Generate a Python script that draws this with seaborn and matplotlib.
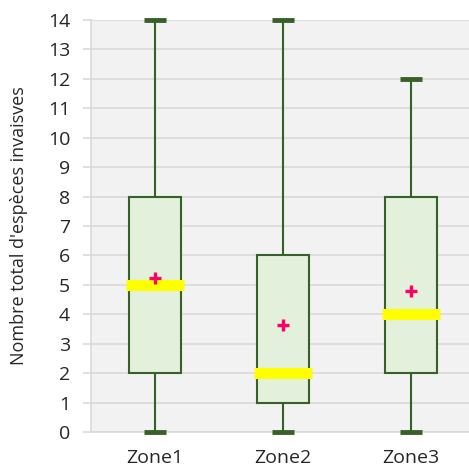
import numpy as np
import pandas as pd
from matplotlib import pyplot as plt
import seaborn as sns

# five-number summaries (min, q1, median, q3, max)
zones = ["Zone1", "Zone2", "Zone3"]
mins = [0, 0, 0]
q1s = [2, 1, 2]
medians = [5, 2, 4]
q3s = [8, 6, 8]
maxs = [14, 14, 12]
means = [5.25, 3.65, 4.8]

# with 5 values, quartiles fall exactly on the summary points
rows = []
for z, a, b, c, d, e in zip(zones, mins, q1s, medians, q3s, maxs):
    for v in (a, b, c, d, e):
        rows.append({"zone": z, "value": v})
dat = pd.DataFrame(rows)
mdat = pd.DataFrame({"zone": zones, "mean": means})

sns.set_style("white")
plt.rcParams["font.family"] = ["Open Sans", "DejaVu Sans"]

fig = plt.figure(figsize=(4.69, 4.68), dpi=100)
ax = fig.add_axes([91 / 469, 1 - 432 / 468, 384 / 469, 412 / 468])
ax.set_facecolor("#f2f2f2")

green = "#38612a"
sns.boxplot(data=dat, x="zone", y="value", ax=ax, whis=(0, 100), width=0.41,
            color="#e3f1dc", linecolor=green, linewidth=1.5, fill=True,
            saturation=1, showcaps=True,
            medianprops=dict(color="#ffff00", linewidth=0),
            capprops=dict(linewidth=3.5, solid_capstyle="butt"),
            capwidths=0.17)

# caps at 0 and 14 sit on the axes edges, keep them unclipped and above spines
for ln in ax.lines:
    ln.set_clip_on(False)
    ln.set_zorder(4)

# thick yellow median bands, slightly wider than the boxes
for i, m in enumerate(medians):
    ax.plot([i - 0.225, i + 0.225], [m, m], color="#ffff00", lw=8,
            solid_capstyle="butt", zorder=5)

sns.scatterplot(data=mdat, x="zone", y="mean", ax=ax, marker="+", s=75,
                color="#ff0066", linewidth=2.4, zorder=6, legend=False)

ax.set_xlim(-0.5, 2.5)
ax.set_ylim(0, 14)
ax.set_yticks(range(0, 15))
ax.yaxis.grid(True, color="#d9d9d9", lw=1.2)
ax.set_axisbelow(True)
for s in ["top", "right"]:
    ax.spines[s].set_visible(False)
for s in ["left", "bottom"]:
    ax.spines[s].set_color("#d9d9d9")
    ax.spines[s].set_linewidth(1.2)

ax.set_xticks([-0.5, 0.5, 1.5, 2.5], minor=True)
ax.tick_params(axis="x", which="minor", length=6, color="#d9d9d9", width=1.2)
ax.tick_params(axis="x", which="major", length=0, pad=12, labelsize=14,
               labelcolor="#262626")
ax.tick_params(axis="y", length=6, color="#d9d9d9", width=1.2, pad=9,
               labelsize=14, labelcolor="#262626", left=True)
ax.set_xlabel("")
ax.set_ylabel("Nombre total d'espèces invaisves", fontsize=13, color="#262626",
              labelpad=14)

fig.savefig("out.png", dpi=100)
